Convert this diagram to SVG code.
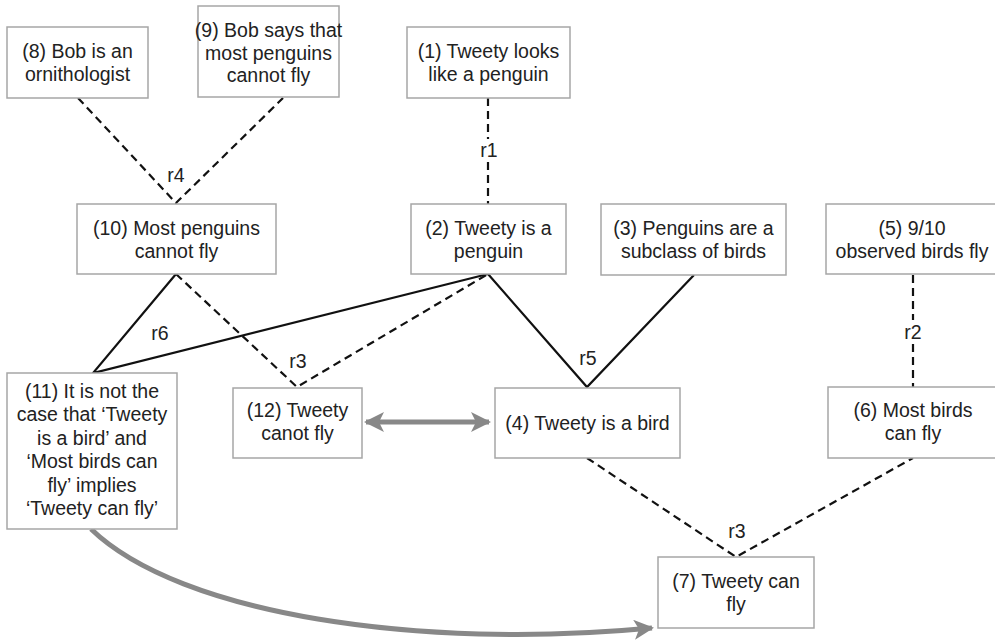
<svg xmlns="http://www.w3.org/2000/svg" width="995" height="643" viewBox="0 0 995 643">
<defs>
<style>
.box{fill:#fff;stroke:#a6a6a6;stroke-width:1.5}
.t{font-family:"Liberation Sans",Arial,sans-serif;font-size:19.5px;fill:#222;text-anchor:middle}
.solid{fill:none;stroke:#111;stroke-width:2.2}
.dash{fill:none;stroke:#111;stroke-width:2.2;stroke-dasharray:8 5}
.grey{fill:none;stroke:#888;stroke-width:5}
</style>
<marker id="ah" viewBox="0 0 10 10" refX="9" refY="5" markerWidth="4.4" markerHeight="4" orient="auto-start-reverse" markerUnits="strokeWidth">
<path d="M0,0 L10,5 L0,10 L2.5,5 Z" fill="#888"/>
</marker>
</defs>
<rect width="995" height="643" fill="#fff"/>
<g id="connectors">
<path class="dash" d="M78,98 L176,203 L283,98"/>
<path class="dash" d="M488,98 L488,139 M488,162 L488,204"/>
<path class="dash" d="M913,275 L913,320 M913,344 L913,387"/>
<path class="dash" d="M176,274 L297,387 L488,274"/>
<path class="dash" d="M587,458 L736,557 L913,458"/>
<path class="solid" d="M176,274 L93,373 L488,274"/>
<path class="solid" d="M488,274 L587,387 L694,275"/>
<path class="grey" d="M366,422 L489,422" marker-start="url(#ah)" marker-end="url(#ah)"/>
<path class="grey" d="M91,529 C180,615 420,650 652,628" marker-end="url(#ah)"/>
<text class="t" x="176" y="182">r4</text>
<text class="t" x="489" y="157">r1</text>
<text class="t" x="913" y="339">r2</text>
<text class="t" x="160" y="340">r6</text>
<text class="t" x="298" y="368">r3</text>
<text class="t" x="588" y="365">r5</text>
<text class="t" x="737" y="538">r3</text>
</g>
<g id="n8"><rect class="box" x="7" y="27" width="141" height="71"/>
<text class="t" x="77.5" y="58">(8) Bob is an</text><text class="t" x="77.5" y="80.5">ornithologist</text></g>
<g id="n9"><rect class="box" x="198" y="6" width="141" height="91"/>
<text class="t" x="268.5" y="37">(9) Bob says that</text><text class="t" x="268.5" y="59.5">most penguins</text><text class="t" x="268.5" y="82">cannot fly</text></g>
<g id="n1"><rect class="box" x="407" y="27" width="163" height="71"/>
<text class="t" x="488.5" y="58">(1) Tweety looks</text><text class="t" x="488.5" y="80.5">like a penguin</text></g>
<g id="n10"><rect class="box" x="77" y="204" width="199" height="70"/>
<text class="t" x="176.5" y="235">(10) Most penguins</text><text class="t" x="176.5" y="257.5">cannot fly</text></g>
<g id="n2"><rect class="box" x="411" y="204" width="155" height="70"/>
<text class="t" x="488.5" y="235">(2) Tweety is a</text><text class="t" x="488.5" y="257.5">penguin</text></g>
<g id="n3"><rect class="box" x="601" y="204" width="185" height="71"/>
<text class="t" x="693.5" y="235">(3) Penguins are a</text><text class="t" x="693.5" y="257.5">subclass of birds</text></g>
<g id="n5"><rect class="box" x="826" y="204" width="172" height="70"/>
<text class="t" x="912" y="235">(5) 9/10</text><text class="t" x="912" y="257.5">observed birds fly</text></g>
<g id="n11"><rect class="box" x="7" y="373" width="170" height="156"/>
<text class="t" x="92" y="398">(11) It is not the</text><text class="t" x="92" y="421.4">case that ‘Tweety</text><text class="t" x="92" y="444.8">is a bird’ and</text><text class="t" x="92" y="468.2">‘Most birds can</text><text class="t" x="92" y="491.6">fly’ implies</text><text class="t" x="92" y="515">‘Tweety can fly’</text></g>
<g id="n12"><rect class="box" x="233" y="388" width="129" height="70"/>
<text class="t" x="297.5" y="417">(12) Tweety</text><text class="t" x="297.5" y="440">canot fly</text></g>
<g id="n4"><rect class="box" x="495" y="388" width="185" height="70"/>
<text class="t" x="587.5" y="430">(4) Tweety is a bird</text></g>
<g id="n6"><rect class="box" x="828" y="387" width="170" height="71"/>
<text class="t" x="913" y="417">(6) Most birds</text><text class="t" x="913" y="440">can fly</text></g>
<g id="n7"><rect class="box" x="658" y="557" width="156" height="71"/>
<text class="t" x="736" y="588">(7) Tweety can</text><text class="t" x="736" y="610.5">fly</text></g>
</svg>
